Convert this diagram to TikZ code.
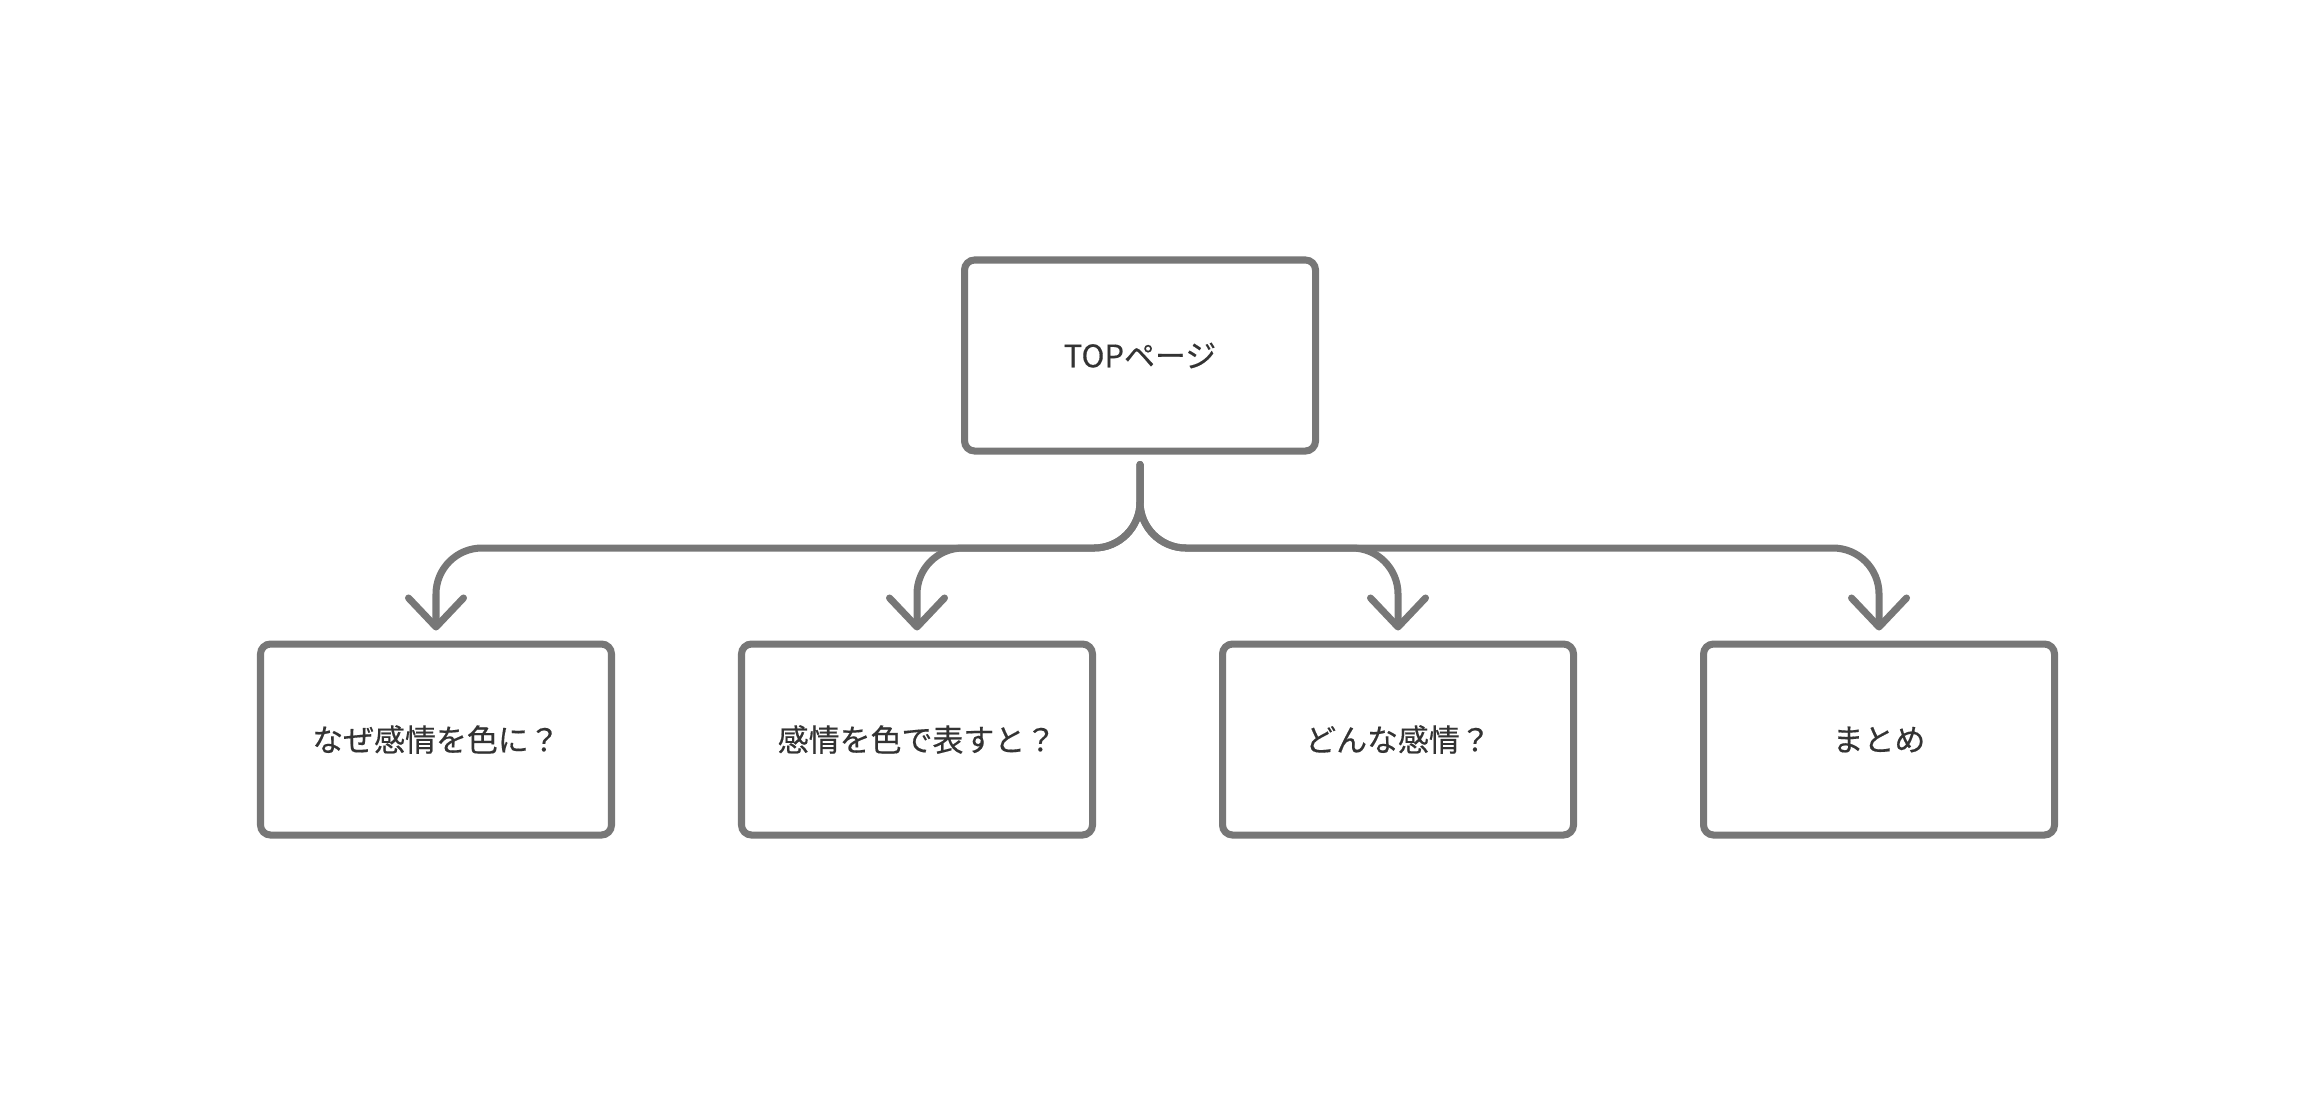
\documentclass[tikz,border=0pt]{standalone}
\usepackage{fontspec}
\setmainfont{Noto Sans CJK JP}[FakeBold=0.4]
\usetikzlibrary{arrows.meta}
\definecolor{linegray}{HTML}{777777}
\definecolor{textgray}{HTML}{333333}

\begin{document}
\begin{tikzpicture}[node distance=4.81cm, auto]
\tikzset{
  page/.style={rectangle, draw=linegray, fill=white, line width=2pt, rounded corners=0.1cm, minimum width=3.51cm, minimum height=1.91cm, align=center, text=textgray, font=\fontsize{8.8pt}{10pt}\selectfont},
  link/.style={draw=linegray, line width=2pt, line cap=round, rounded corners=0.46cm, -{Straight Barb[length=2.9mm,width=5.5mm,round]}, shorten <=0.1cm, shorten >=0.1cm}
}
    \useasboundingbox (0,0) rectangle (23.16,-10.96);
        % Nodes
    \node (top) [page] at (11.40,-3.555) {TOPページ};
    \node (why) [page] at (4.36,-7.395) {なぜ感情を色に？};
    \node (how) [page, right of=why] {感情を色で表すと？};
    \node (which) [page, right of=how] {どんな感情？};
    \node (summary) [page, right of=which] {まとめ};
    \coordinate (bus) at (11.40,-5.48);

    % Arrows
    \draw[link] (top) -- (top |- bus) -- (why |- bus) -- (why);
    \draw[link] (top) -- (top |- bus) -- (how |- bus) -- (how);
    \draw[link] (top) -- (top |- bus) -- (which |- bus) -- (which);
    \draw[link] (top) -- (top |- bus) -- (summary |- bus) -- (summary);
\end{tikzpicture}
\end{document}
